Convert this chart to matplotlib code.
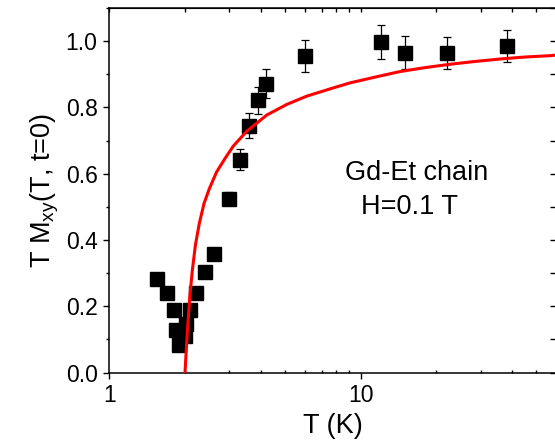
import matplotlib
matplotlib.use('Agg')
import matplotlib.pyplot as plt
from matplotlib.ticker import FixedLocator, MultipleLocator, NullFormatter

plt.rcParams['font.family'] = ['Liberation Sans', 'DejaVu Sans']

# measured points
temps = [1.55, 1.70, 1.80, 1.85, 1.90, 2.00, 2.02, 2.09, 2.21, 2.41, 2.60,
         3.00, 3.31, 3.61, 3.90, 4.20, 6.02, 12.0, 15.05, 22.0, 38.1]
tmxy = [0.282, 0.240, 0.189, 0.129, 0.084, 0.111, 0.147, 0.189, 0.239, 0.303, 0.359,
        0.525, 0.642, 0.745, 0.821, 0.871, 0.955, 0.997, 0.965, 0.963, 0.985]
tmxy_err = [0.01, 0.01, 0.01, 0.01, 0.01, 0.01, 0.01, 0.01, 0.01, 0.01, 0.015,
            0.02, 0.032, 0.037, 0.041, 0.044, 0.048, 0.051, 0.049, 0.048, 0.049]

# theory curve
fit_t = [2.00, 2.02, 2.05, 2.09, 2.14, 2.20, 2.28, 2.38, 2.50, 2.67, 2.88,
         3.11, 3.52, 4.23, 5.08, 6.10, 7.79, 9.07, 11.5, 14.3, 18.0, 22.6,
         28.0, 35.8, 45.0, 56.6, 60.0]
fit_y = [0.00, 0.06, 0.14, 0.23, 0.31, 0.385, 0.45, 0.51, 0.555, 0.605, 0.645,
         0.683, 0.728, 0.777, 0.809, 0.834, 0.859, 0.874, 0.892, 0.908, 0.920, 0.930,
         0.938, 0.946, 0.952, 0.956, 0.958]

fig = plt.figure(figsize=(5.55, 4.42), dpi=100)
ax = fig.add_axes([0.197, 0.157, 0.8054, 0.825])

ax.errorbar(temps, tmxy, yerr=tmxy_err, fmt='s', color='black', ms=9.5,
            ecolor='black', elinewidth=0.9, capsize=2.6, capthick=0.9, zorder=2)
ax.plot(fit_t, fit_y, color='red', lw=2.2, zorder=3)

ax.set_xscale('log')
ax.set_xlim(1, 60)
ax.set_ylim(0, 1.1)
ax.xaxis.set_major_locator(FixedLocator([1, 10]))
ax.set_xticklabels(['1', '10'])
minors = [2, 3, 4, 5, 6, 7, 8, 9, 20, 30, 40, 50]
ax.xaxis.set_minor_locator(FixedLocator(minors))
ax.xaxis.set_minor_formatter(NullFormatter())
ax.yaxis.set_major_locator(MultipleLocator(0.2))
ax.yaxis.set_minor_locator(MultipleLocator(0.1))

for s in ax.spines.values():
    s.set_linewidth(1.1)
ax.tick_params(axis='both', which='major', direction='out', length=4.5, width=1.0,
               labelsize=16.5, pad=4)
ax.tick_params(axis='x', which='minor', direction='in', length=2.5, width=1.0)
ax.tick_params(axis='y', which='minor', direction='out', length=2.5, width=1.0)

top = ax.secondary_xaxis('top')
top.xaxis.set_major_locator(FixedLocator([1, 10]))
top.xaxis.set_minor_locator(FixedLocator(minors))
top.tick_params(which='both', direction='in', length=3, width=1.0,
                labeltop=False)
top.xaxis.set_minor_formatter(NullFormatter())
top.xaxis.set_major_formatter(NullFormatter())

right = ax.secondary_yaxis('right')
right.yaxis.set_major_locator(MultipleLocator(0.2))
right.yaxis.set_minor_locator(MultipleLocator(0.1))
right.tick_params(which='both', direction='in', length=4, width=1.0,
                  labelright=False)
right.yaxis.set_major_formatter(NullFormatter())

ax.set_xlabel('T (K)', fontsize=19.5, labelpad=4)
ax.set_ylabel(r'T M$_\mathregular{xy}$(T, t=0)', fontsize=19.5, labelpad=3)

ax.text(8.66, 0.582, 'Gd-Et chain', fontsize=19.5, va='baseline', ha='left')
ax.text(10.03, 0.479, 'H=0.1 T', fontsize=19.5, va='baseline', ha='left')

fig.savefig('out.png', dpi=100)
